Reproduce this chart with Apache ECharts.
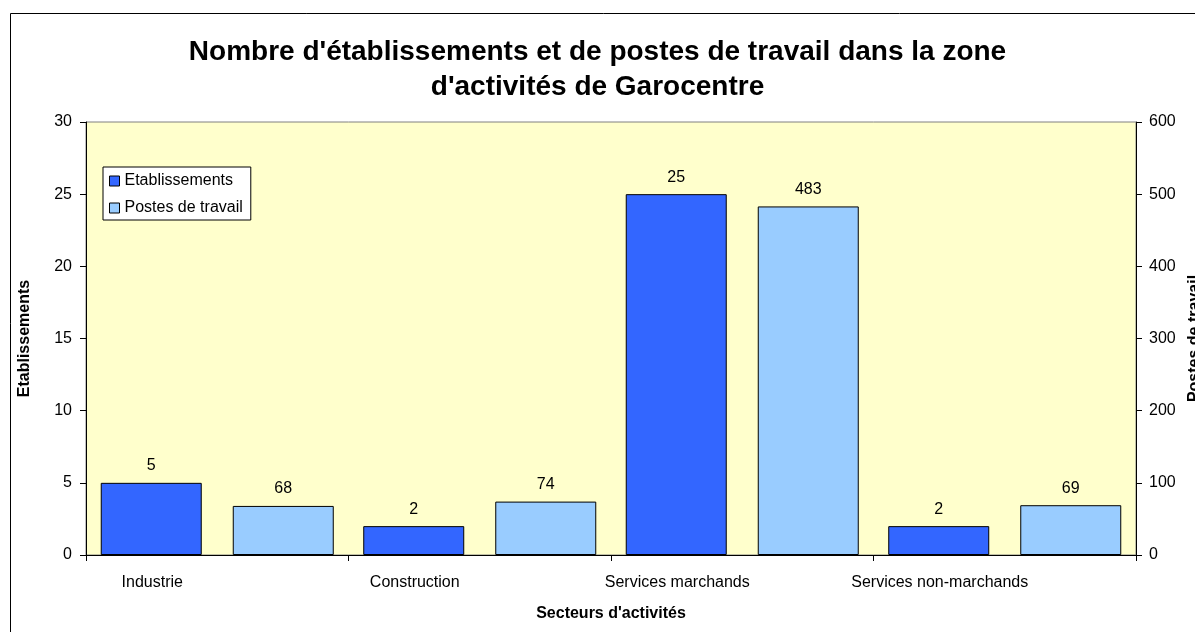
<!DOCTYPE html>
<html>
<head>
<meta charset="utf-8">
<script src="https://cdn.jsdelivr.net/npm/echarts@6/dist/echarts.min.js"></script>
<style>
  html, body { margin: 0; padding: 0; background: #fff; overflow: hidden; }
  #chart { width: 1195px; height: 632px; }
</style>
</head>
<body>
<div id="chart"></div>
<script>
  // donnees
  var secteurs = ['Industrie', 'Construction', 'Services marchands', 'Services non-marchands']
  var etablissements = [5, 2, 25, 2]
  var postes = [68, 74, 483, 69]
  var ticksEtab = [0, 30, 5]     // min, max, pas
  var ticksPostes = [0, 600, 100]

  var font = 'Liberation Sans, Arial, sans-serif'
  var small = 16
  var chart = echarts.init(document.getElementById('chart'))

  chart.setOption({
    animation: false,
    textStyle: { fontFamily: font, color: '#000' },
    graphic: [{
      type: 'rect',
      shape: { x: 10.5, y: 13.5, width: 1200, height: 640 },
      style: { fill: 'none', stroke: '#000', lineWidth: 1 },
      silent: true
    }],
    title: {
      text: "Nombre d'établissements et de postes de travail dans la zone\nd'activités de Garocentre",
      left: 'center',
      top: 35,
      padding: [0, 10, 0, 0],
      textStyle: { fontFamily: font, fontSize: 28, fontWeight: 'bold', lineHeight: 35, color: '#000' }
    },
    legend: {
      orient: 'vertical',
      left: 103,
      top: 167,
      backgroundColor: '#fff',
      borderColor: '#000',
      borderWidth: 1,
      borderRadius: 0,
      padding: [5, 8, 3, 6],
      itemWidth: 10,
      itemHeight: 10,
      itemGap: 9,
      icon: 'rect',
      itemStyle: { borderColor: '#000', borderWidth: 1 },
      textStyle: { fontFamily: font, fontSize: small, lineHeight: 18, color: '#000' },
      data: ['Etablissements', 'Postes de travail']
    },
    grid: {
      left: 86, right: 59, top: 122, bottom: 77,
      outerBoundsMode: 'none',
      show: true,
      backgroundColor: '#FFFFCC',
      borderColor: '#808080',
      borderWidth: 1
    },
    xAxis: {
      type: 'category',
      data: secteurs,
      name: "Secteurs d'activités",
      nameLocation: 'middle',
      nameGap: 51,
      nameTextStyle: { fontFamily: font, fontSize: small, fontWeight: 'bold', color: '#000' },
      axisLine: { lineStyle: { color: '#000', width: 1 } },
      axisTick: { show: true, length: 6, lineStyle: { color: '#000' } },
      axisLabel: { fontFamily: font, fontSize: small, color: '#000', margin: 20, padding: [0, 130, 0, 0] }
    },
    yAxis: [{
      type: 'value',
      min: ticksEtab[0], max: ticksEtab[1], interval: ticksEtab[2],
      name: 'Etablissements',
      nameLocation: 'middle',
      nameGap: 53,
      nameTextStyle: { fontFamily: font, fontSize: small, fontWeight: 'bold', color: '#000' },
      axisLine: { show: true, lineStyle: { color: '#000', width: 1 } },
      axisTick: { show: true, length: 6, lineStyle: { color: '#000' } },
      axisLabel: { fontFamily: font, fontSize: small, color: '#000', margin: 14 },
      splitLine: { show: false }
    }, {
      type: 'value',
      position: 'right',
      min: ticksPostes[0], max: ticksPostes[1], interval: ticksPostes[2],
      name: 'Postes de travail',
      nameLocation: 'middle',
      nameGap: 46,
      nameTextStyle: { fontFamily: font, fontSize: small, fontWeight: 'bold', color: '#000' },
      axisLine: { show: true, lineStyle: { color: '#000', width: 1 } },
      axisTick: { show: true, length: 6, lineStyle: { color: '#000' } },
      axisLabel: { fontFamily: font, fontSize: small, color: '#000', margin: 13 },
      splitLine: { show: false }
    }],
    series: [{
      name: 'Etablissements',
      type: 'bar',
      yAxisIndex: 0,
      data: etablissements,
      barWidth: 101,
      barGap: '30.7%',
      itemStyle: { color: '#3366FF', borderColor: '#000', borderWidth: 1 },
      label: { show: true, position: 'top', distance: 9, fontFamily: font, fontSize: small, color: '#000' }
    }, {
      name: 'Postes de travail',
      type: 'bar',
      yAxisIndex: 1,
      data: postes,
      barWidth: 101,
      barGap: '30.7%',
      itemStyle: { color: '#99CCFF', borderColor: '#000', borderWidth: 1 },
      label: { show: true, position: 'top', distance: 9, fontFamily: font, fontSize: small, color: '#000' }
    }]
  })
</script>
</body>
</html>
